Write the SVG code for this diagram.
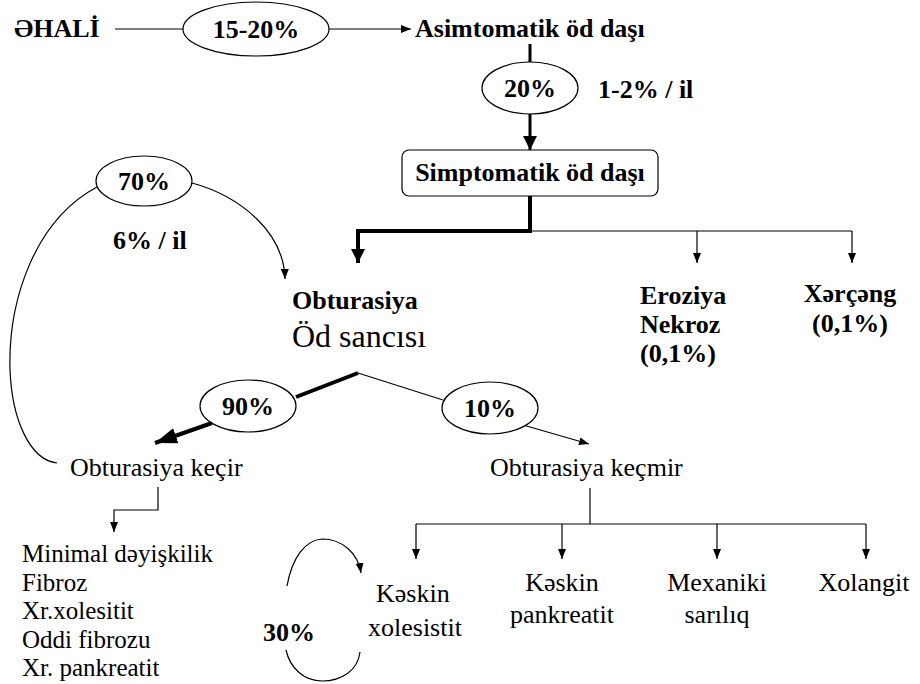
<svg xmlns="http://www.w3.org/2000/svg" width="920" height="684" viewBox="0 0 920 684">
  <style>
    text { font-family: "Liberation Serif", "Times New Roman", serif; fill: #000; }
    .b { font-weight: bold; font-size: 26px; }
    .r { font-size: 26px; }
    .l { font-size: 25px; }
    .big { font-size: 32px; }
    .mid { text-anchor: middle; }
    .oval { fill: #fff; stroke: #000; stroke-width: 1.2; }
    .thin { fill: none; stroke: #000; stroke-width: 1.2; }
    .thick { fill: none; stroke: #000; stroke-width: 3; }
    .heavy { fill: none; stroke: #000; stroke-width: 4; }
  </style>
  <defs>
    <marker id="ah" markerUnits="userSpaceOnUse" markerWidth="10" markerHeight="8" refX="10" refY="4" orient="auto">
      <path d="M0,0 L10,4 L0,8 z" fill="#000"/>
    </marker>
    <marker id="ahThick" markerUnits="userSpaceOnUse" markerWidth="14" markerHeight="14" refX="14" refY="7" orient="auto">
      <path d="M0,0 L14,7 L0,14 z" fill="#000"/>
    </marker>
    <marker id="ahHeavy" markerUnits="userSpaceOnUse" markerWidth="22" markerHeight="16" refX="22" refY="8" orient="auto">
      <path d="M0,0 L22,8 L0,16 z" fill="#000"/>
    </marker>
  </defs>

  <!-- connectors -->
  <g id="connectors">
    <line class="thin" x1="115" y1="29" x2="183" y2="29"/>
    <line class="thin" x1="329" y1="29" x2="411" y2="29" marker-end="url(#ah)"/>
    <line class="thick" x1="530" y1="44" x2="530" y2="62"/>
    <line class="thick" x1="530" y1="114" x2="530" y2="150" marker-end="url(#ahThick)"/>
    <path class="heavy" d="M530,196 V231 H358 V263" marker-end="url(#ahThick)"/>
    <path class="thin" d="M530,231 H852"/>
    <line class="thin" x1="697" y1="231" x2="697" y2="263" marker-end="url(#ah)"/>
    <line class="thin" x1="852" y1="231" x2="852" y2="263" marker-end="url(#ah)"/>
    <path class="thin" d="M192,183 C240,196 284,232 285,279" marker-end="url(#ah)"/>
    <path class="thin" d="M97,187 C35,220 8,300 10,370 C12,420 30,460 57,463"/>
    <line class="heavy" x1="358" y1="373" x2="296" y2="397"/>
    <line class="heavy" x1="212" y1="423" x2="155" y2="443" marker-end="url(#ahHeavy)"/>
    <line class="thin" x1="358" y1="373" x2="443" y2="400"/>
    <line class="thin" x1="523" y1="425" x2="589" y2="444" marker-end="url(#ah)"/>
    <path class="thin" d="M158,487 V510 H114 V532" marker-end="url(#ah)"/>
    <path class="thin" d="M590,488 V524 M416,524 H866"/>
    <line class="thin" x1="416" y1="524" x2="416" y2="559" marker-end="url(#ah)"/>
    <line class="thin" x1="562" y1="524" x2="562" y2="559" marker-end="url(#ah)"/>
    <line class="thin" x1="717" y1="524" x2="717" y2="559" marker-end="url(#ah)"/>
    <line class="thin" x1="866" y1="524" x2="866" y2="559" marker-end="url(#ah)"/>
    <path class="thin" d="M287,586 C292,558 305,540 322,539 C342,539 358,553 361,573" marker-end="url(#ah)"/>
    <path class="thin" d="M286,650 C290,668 304,681 322,681 C342,681 358,670 360,652"/>
  </g>

  <g id="ehali"><text class="b" x="14" y="37">ƏHALİ</text></g>
  <g id="p15-20">
    <ellipse class="oval" cx="256" cy="29" rx="73" ry="27"/>
    <text class="b mid" x="256" y="38">15-20%</text>
  </g>
  <g id="asimptomatik"><text class="b" x="415" y="37">Asimtomatik öd daşı</text></g>
  <g id="p20">
    <ellipse class="oval" cx="530" cy="88" rx="48" ry="26"/>
    <text class="b mid" x="530" y="97">20%</text>
  </g>
  <g id="rate1"><text class="b" x="598" y="98">1-2% / il</text></g>
  <g id="simptomatik">
    <rect x="402" y="150" width="256" height="46" rx="7" fill="#fff" stroke="#000" stroke-width="1.2"/>
    <text class="b mid" x="530" y="181">Simptomatik öd daşı</text>
  </g>
  <g id="p70">
    <ellipse class="oval" cx="144" cy="181" rx="48" ry="25"/>
    <text class="b mid" x="144" y="190">70%</text>
  </g>
  <g id="rate6"><text class="b" x="113" y="249">6% / il</text></g>
  <g id="obturasiya">
    <text class="b" x="292" y="309">Obturasiya</text>
    <text class="big" x="292" y="347">Öd sancısı</text>
  </g>
  <g id="eroziya">
    <text class="b" x="640" y="304">Eroziya</text>
    <text class="b" x="640" y="333">Nekroz</text>
    <text class="b" x="640" y="362">(0,1%)</text>
  </g>
  <g id="xercheng">
    <text class="b mid" x="850" y="302">Xərçəng</text>
    <text class="b mid" x="850" y="332">(0,1%)</text>
  </g>
  <g id="p90">
    <ellipse class="oval" cx="248" cy="406" rx="48" ry="26"/>
    <text class="b mid" x="248" y="415">90%</text>
  </g>
  <g id="p10">
    <ellipse class="oval" cx="490" cy="408" rx="48" ry="26"/>
    <text class="b mid" x="490" y="417">10%</text>
  </g>
  <g id="kecir"><text class="r" x="70" y="476">Obturasiya keçir</text></g>
  <g id="kecmir"><text class="r" x="490" y="476">Obturasiya keçmir</text></g>
  <g id="list">
    <text class="l" x="22" y="562">Minimal dəyişkilik</text>
    <text class="l" x="22" y="591">Fibroz</text>
    <text class="l" x="22" y="619">Xr.xolesitit</text>
    <text class="l" x="22" y="648">Oddi fibrozu</text>
    <text class="l" x="22" y="676">Xr. pankreatit</text>
  </g>
  <g id="p30"><text class="b" x="263" y="641">30%</text></g>
  <g id="kolesistit">
    <text class="r" x="376" y="602">Kəskin</text>
    <text class="r" x="368" y="636">xolesistit</text>
  </g>
  <g id="pankreatit">
    <text class="r mid" x="562" y="591">Kəskin</text>
    <text class="r mid" x="562" y="623">pankreatit</text>
  </g>
  <g id="sariliq">
    <text class="r mid" x="717" y="591">Mexaniki</text>
    <text class="r mid" x="717" y="623">sarılıq</text>
  </g>
  <g id="xolangit"><text class="r mid" x="864" y="591">Xolangit</text></g>
</svg>
